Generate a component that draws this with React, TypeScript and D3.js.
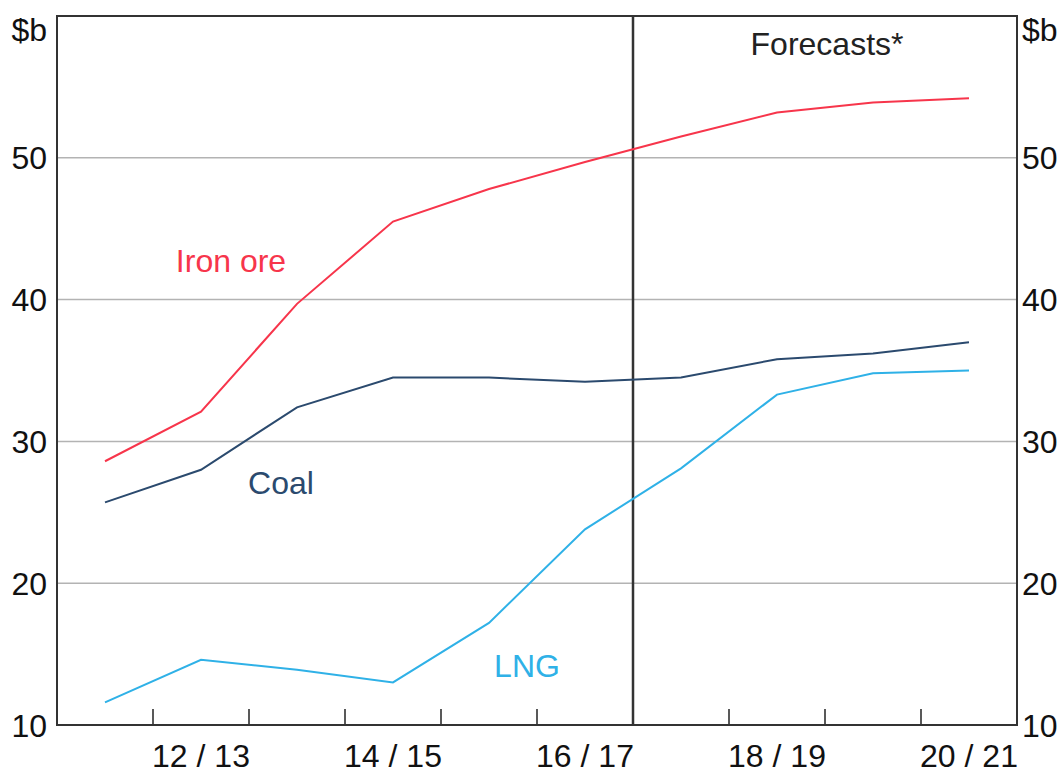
import * as d3 from 'd3';

const years = ['11/12', '12/13', '13/14', '14/15', '15/16', '16/17', '17/18', '18/19', '19/20', '20/21'];
const labelledYears = ['12/13', '14/15', '16/17', '18/19', '20/21'];
const ironOre = [28.6, 32.1, 39.7, 45.5, 47.8, 49.7, 51.5, 53.2, 53.9, 54.2];
const coal = [25.7, 28.0, 32.4, 34.5, 34.5, 34.2, 34.5, 35.8, 36.2, 37.0];
const lng = [11.6, 14.6, 13.9, 13.0, 17.2, 23.8, 28.1, 33.3, 34.8, 35.0];
const yTicks = [10, 20, 30, 40, 50];
const forecastFrom = '17/18';

const width = 1062;
const height = 773;
const margin = { top: 16, right: 45, bottom: 48, left: 57 };
const font = '"Liberation Sans", Arial, sans-serif';
const fs = 32;

export default function App() {
    const x = d3.scaleBand<string>()
        .domain(years)
        .range([margin.left, width - margin.right])
        .paddingInner(0)
        .paddingOuter(0);
    const y = d3.scaleLinear()
        .domain([10, 60])
        .range([height - margin.bottom, margin.top]);

    const cx = (d: string) => (x(d) || 0) + x.bandwidth() / 2;
    const line = d3.line<number>()
        .x((_, i) => cx(years[i]))
        .y((d) => y(d));

    const series = [
        { name: 'Iron ore', values: ironOre, color: '#f7354b', lx: 231, ly: 260 },
        { name: 'Coal', values: coal, color: '#2b4a6e', lx: 281, ly: 482 },
        { name: 'LNG', values: lng, color: '#2fb1e7', lx: 527, ly: 665 },
    ];

    const left = margin.left;
    const right = width - margin.right;
    const top = margin.top;
    const bottom = height - margin.bottom;
    const forecastX = x(forecastFrom) || 0;

    return (
        <svg width={width} height={height} style={{ position: 'absolute', left: 0, top: 0, background: '#fff' }}
            fontFamily={font}>
            {/* gridlines */}
            {yTicks.filter((t) => t > 10).map((t) => (
                <line key={t} x1={left} x2={right} y1={y(t)} y2={y(t)} stroke="#b3b3b3" strokeWidth={1.5} />
            ))}

            {/* bottom ticks at year boundaries */}
            {years.slice(1).map((yr) => (
                <line key={yr} x1={x(yr)} x2={x(yr)} y1={bottom} y2={bottom - 16} stroke="#222" strokeWidth={1.5} />
            ))}

            {/* forecast divider */}
            <line x1={forecastX} x2={forecastX} y1={top} y2={bottom} stroke="#333" strokeWidth={2.5} />
            <text x={827} y={43} dy="0.36em" textAnchor="middle" fontSize={fs} fill="#222">Forecasts*</text>

            {series.map((s) => (
                <g key={s.name}>
                    <path d={line(s.values) || ''} fill="none" stroke={s.color} strokeWidth={2} />
                    <text x={s.lx} y={s.ly} dy="0.36em" textAnchor="middle" fontSize={fs} fill={s.color}>{s.name}</text>
                </g>
            ))}

            {/* frame */}
            <rect x={left} y={top} width={right - left} height={bottom - top} fill="none" stroke="#333" strokeWidth={2} />

            {/* y labels both sides */}
            {yTicks.map((t) => (
                <g key={t}>
                    <text x={left - 10} y={y(t)} dy="0.36em" textAnchor="end" fontSize={fs} fill="#111">{t}</text>
                    <text x={right + 5} y={y(t)} dy="0.36em" textAnchor="start" fontSize={fs} fill="#111">{t}</text>
                </g>
            ))}
            <text x={left - 10} y={29} dy="0.36em" textAnchor="end" fontSize={fs} fill="#111">$b</text>
            <text x={right + 5} y={29} dy="0.36em" textAnchor="start" fontSize={fs} fill="#111">$b</text>

            {/* x labels */}
            {labelledYears.map((yr) => (
                <text key={yr} x={cx(yr)} y={755} dy="0.36em" textAnchor="middle" fontSize={fs} fill="#111">
                    {yr.replace('/', ' / ')}
                </text>
            ))}
        </svg>
    );
}
